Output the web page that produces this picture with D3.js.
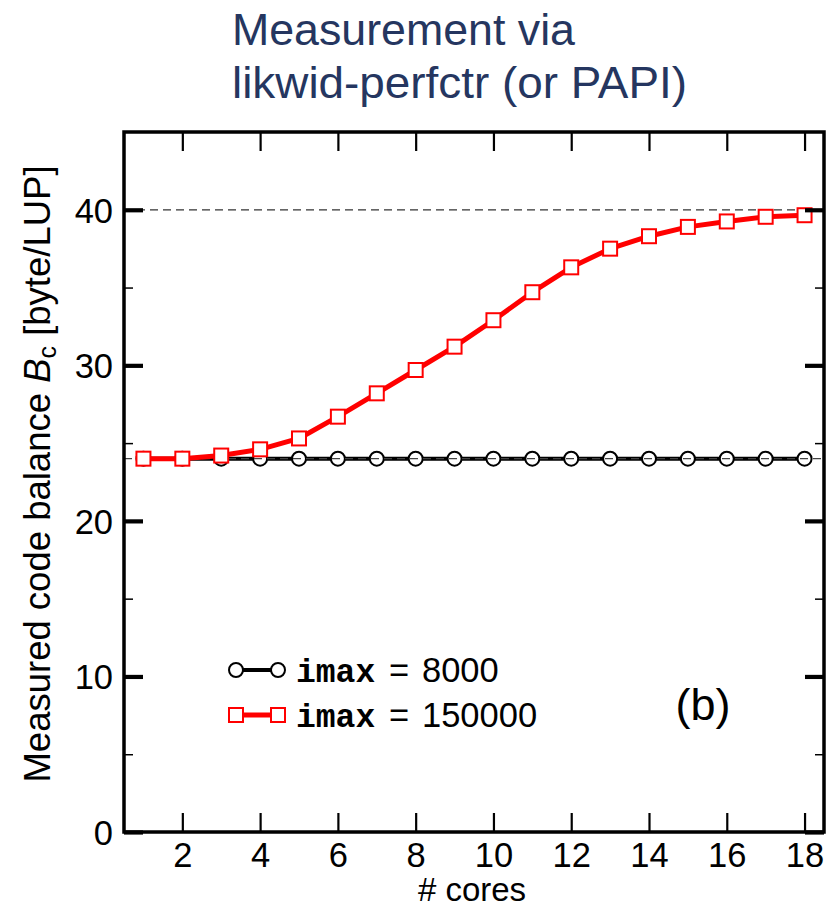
<!DOCTYPE html>
<html>
<head>
<meta charset="utf-8">
<script src="https://cdn.jsdelivr.net/npm/d3@7"></script>
<style>
  html, body { margin: 0; padding: 0; background: #fff; }
  svg { display: block; }
  text { font-family: "Liberation Sans", Arial, Helvetica, sans-serif; }
</style>
</head>
<body>
<script>
// ---- data ----
const cores = [1, 2, 3, 4, 5, 6, 7, 8, 9, 10, 11, 12, 13, 14, 15, 16, 17, 18];
const imax8000 = [24.0, 24.0, 24.0, 24.0, 24.0, 24.0, 24.0, 24.0, 24.0, 24.0, 24.0, 24.0, 24.0, 24.0, 24.0, 24.0, 24.0, 24.0];
const imax150000 = [24.0, 24.0, 24.2, 24.6, 25.3, 26.7, 28.2, 29.7, 31.2, 32.9, 34.7, 36.3, 37.5, 38.3, 38.9, 39.25, 39.55, 39.65];
const xMajorTicks = [2, 4, 6, 8, 10, 12, 14, 16, 18];
const yMajorTicks = [0, 10, 20, 30, 40];
const yMinorTicks = [5, 15, 25, 35];
const titleLines = ["Measurement via", "likwid-perfctr (or PAPI)"];
const legendLabels = ["8000", "150000"];

const W = 837, H = 907;
const svg = d3.select("body").append("svg").attr("width", W).attr("height", H);

const L = 124, R = 824, T = 132, B = 832;
const x = d3.scaleLinear().domain([0.5, 18.5]).range([L, R]);
const y = d3.scaleLinear().domain([0, 45]).range([B, T]);

// title
const titleLens = [343, 455];
titleLines.forEach((t, i) => {
  svg.append("text").attr("x", 232).attr("y", 45 + i * 53)
    .attr("font-size", 44).attr("fill", "#253660")
    .attr("textLength", titleLens[i]).attr("lengthAdjust", "spacingAndGlyphs")
    .text(t);
});

// reference dashed line at 40
svg.append("line")
  .attr("x1", L).attr("x2", R).attr("y1", y(40)).attr("y2", y(40))
  .attr("stroke", "#333").attr("stroke-width", 1.2).attr("stroke-dasharray", "8,5");

// series
const line = d3.line().x(d => x(d[0])).y(d => y(d[1]));
const s1 = cores.map((c, i) => [c, imax8000[i]]);
const s2 = cores.map((c, i) => [c, imax150000[i]]);

svg.append("path").datum(s1).attr("d", line)
  .attr("fill", "none").attr("stroke", "#000").attr("stroke-width", 4);
svg.append("g").selectAll("circle").data(s1).join("circle")
  .attr("cx", d => x(d[0])).attr("cy", d => y(d[1])).attr("r", 7)
  .attr("fill", "#fff").attr("stroke", "#000").attr("stroke-width", 2);

// dashed line at 24 over the circles
svg.append("line")
  .attr("x1", L).attr("x2", R).attr("y1", y(24)).attr("y2", y(24))
  .attr("stroke", "#444").attr("stroke-width", 1.2).attr("stroke-dasharray", "8,5");

svg.append("path").datum(s2).attr("d", line)
  .attr("fill", "none").attr("stroke", "#ff0000").attr("stroke-width", 5)
  .attr("stroke-linejoin", "round");
const sq = 14;
svg.append("g").selectAll("rect").data(s2).join("rect")
  .attr("x", d => x(d[0]) - sq / 2).attr("y", d => y(d[1]) - sq / 2)
  .attr("width", sq).attr("height", sq)
  .attr("fill", "#fff").attr("stroke", "#ff0000").attr("stroke-width", 2);

// inward ticks via d3 axes
const axBottom = d3.axisTop(x).tickValues(xMajorTicks).tickSize(19).tickFormat("");
const axTop = d3.axisBottom(x).tickValues(xMajorTicks).tickSize(19).tickFormat("");
const gB = svg.append("g").attr("transform", `translate(0,${B})`).call(axBottom);
const gT = svg.append("g").attr("transform", `translate(0,${T})`).call(axTop);
[gB, gT].forEach(g => {
  g.select(".domain").remove();
  g.selectAll(".tick line").attr("stroke", "#000").attr("stroke-width", 2.2);
});

const axLeftMaj = d3.axisRight(y).tickValues(yMajorTicks).tickSize(19).tickFormat("");
const axRightMaj = d3.axisLeft(y).tickValues(yMajorTicks).tickSize(19).tickFormat("");
const axLeftMin = d3.axisRight(y).tickValues(yMinorTicks).tickSize(9).tickFormat("");
const axRightMin = d3.axisLeft(y).tickValues(yMinorTicks).tickSize(9).tickFormat("");
[[axLeftMaj, L, 4.2], [axRightMaj, R, 4.2], [axLeftMin, L, 1.5], [axRightMin, R, 1.5]].forEach(([ax, px, sw]) => {
  const g = svg.append("g").attr("transform", `translate(${px},0)`).call(ax);
  g.select(".domain").remove();
  g.selectAll(".tick line").attr("stroke", "#000").attr("stroke-width", sw);
});

// frame
svg.append("rect").attr("x", L).attr("y", T).attr("width", R - L).attr("height", B - T)
  .attr("fill", "none").attr("stroke", "#000").attr("stroke-width", 3.5);

// tick labels
const xl = d3.axisBottom(x).tickValues(xMajorTicks).tickSize(0).tickPadding(0);
const gxl = svg.append("g").attr("transform", `translate(0,${B})`).call(xl);
gxl.select(".domain").remove();
gxl.selectAll(".tick text").attr("y", 35).attr("dy", 0).attr("font-size", 34.5)
  .attr("fill", "#000").attr("font-family", "Liberation Sans, Arial, sans-serif");

const yl = d3.axisLeft(y).tickValues(yMajorTicks).tickSize(0).tickPadding(0);
const gyl = svg.append("g").attr("transform", `translate(${L},0)`).call(yl);
gyl.select(".domain").remove();
gyl.selectAll(".tick text").attr("x", -11).attr("dy", "0.36em").attr("font-size", 34.5)
  .attr("fill", "#000").attr("font-family", "Liberation Sans, Arial, sans-serif");

// axis titles
svg.append("text").attr("x", (L + R) / 2 - 2).attr("y", 901).attr("text-anchor", "middle")
  .attr("font-size", 33).text("# cores");

const yt = svg.append("text").attr("transform", `translate(50,${(T + B) / 2 - 8}) rotate(-90)`)
  .attr("text-anchor", "middle").attr("font-size", 36.5);
yt.append("tspan").text("Measured code balance ");
yt.append("tspan").attr("font-style", "italic").text("B");
yt.append("tspan").attr("font-size", 25).attr("dy", 6).text("c");
yt.append("tspan").attr("dy", -6).text(" [byte/LUP]");

// legend
const lg = svg.append("g");
const rows = [
  { y: 670, color: "#000", shape: "circle", lw: 4 },
  { y: 715, color: "#ff0000", shape: "square", lw: 5 }
];
rows.forEach((r, i) => {
  lg.append("line").attr("x1", 236).attr("x2", 278).attr("y1", r.y).attr("y2", r.y)
    .attr("stroke", r.color).attr("stroke-width", r.lw);
  [236, 278].forEach(cx => {
    if (r.shape === "circle") {
      lg.append("circle").attr("cx", cx).attr("cy", r.y).attr("r", 7)
        .attr("fill", "#fff").attr("stroke", r.color).attr("stroke-width", 2);
    } else {
      lg.append("rect").attr("x", cx - 7).attr("y", r.y - 7).attr("width", 14).attr("height", 14)
        .attr("fill", "#fff").attr("stroke", r.color).attr("stroke-width", 2);
    }
  });
  const t = lg.append("text").attr("x", 296).attr("y", r.y + 12).attr("font-size", 34.5);
  t.append("tspan").attr("font-family", "Liberation Mono, Courier New, monospace")
    .attr("font-weight", "bold").attr("font-size", 33).text("imax");
  t.append("tspan").attr("x", 389).text("=");
  t.append("tspan").attr("x", 422).text(legendLabels[i]);
});

// panel label
svg.append("text").attr("x", 703).attr("y", 720).attr("text-anchor", "middle")
  .attr("font-size", 45).text("(b)");
</script>
</body>
</html>
